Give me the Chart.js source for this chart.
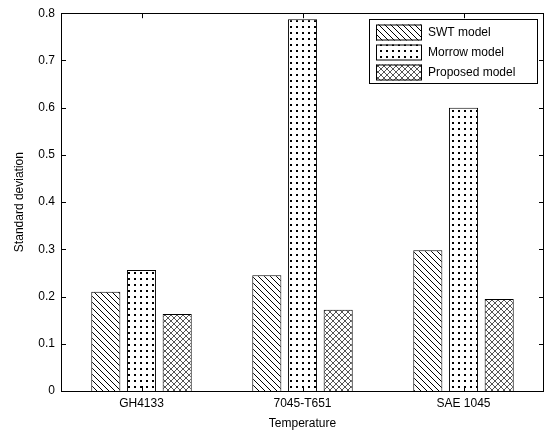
<!DOCTYPE html>
<html>
<head>
<meta charset="utf-8">
<script src="https://cdn.jsdelivr.net/npm/chart.js@4"></script>
<style>
  html, body { margin: 0; padding: 0; background: #fff; }
  #wrap { width: 545px; height: 435px; }
</style>
</head>
<body>
<div id="wrap"><canvas id="chart" width="545" height="435"></canvas></div>
<script>
const materials = ['GH4133', '7045-T651', 'SAE 1045'];
const seriesNames = ['SWT model', 'Morrow model', 'Proposed model'];
const swtValues = [0.210, 0.245, 0.298];
const morrowValues = [0.256, 0.787, 0.600];
const proposedValues = [0.163, 0.172, 0.195];
const yTicks = [0, 0.1, 0.2, 0.3, 0.4, 0.5, 0.6, 0.7, 0.8];

const FONT = '"Liberation Sans", Arial, sans-serif';

// small pattern tiles, black on white like the print version
function makePattern(kind) {
  const c = document.createElement('canvas');
  c.width = 6; c.height = 6;
  const g = c.getContext('2d');
  g.fillStyle = '#fff';
  g.fillRect(0, 0, 6, 6);
  g.strokeStyle = '#000';
  g.lineWidth = 1;
  if (kind === 'diag') {
    g.beginPath();
    g.moveTo(-1, -1); g.lineTo(7, 7);
    g.moveTo(-1, 5); g.lineTo(1, 7);
    g.moveTo(5, -1); g.lineTo(7, 1);
    g.stroke();
  } else if (kind === 'dots') {
    g.fillStyle = '#000';
    g.fillRect(2, 2, 2, 2);
  } else {
    g.strokeStyle = '#555';
    g.beginPath();
    g.moveTo(-1, -1); g.lineTo(7, 7);
    g.moveTo(7, -1); g.lineTo(-1, 7);
    g.stroke();
  }
  return g.createPattern(c, 'repeat');
}

const swtFill = makePattern('diag');
const morrowFill = makePattern('dots');
const propFill = makePattern('cross');

// box round the plot, inward tick marks, and the legend inside the plot
const framePlugin = {
  id: 'frame',
  afterDraw(chart) {
    const ctx = chart.ctx;
    const a = chart.chartArea;
    const y = chart.scales.y;
    const x = chart.scales.x;
    ctx.save();
    ctx.strokeStyle = '#000';
    ctx.lineWidth = 1;
    ctx.strokeRect(Math.round(a.left) + 0.5, Math.round(a.top) + 0.5,
      Math.round(a.right - a.left) - 1, Math.round(a.bottom - a.top));
    ctx.beginPath();
    yTicks.forEach(v => {
      const py = Math.round(y.getPixelForValue(v)) + 0.5;
      ctx.moveTo(a.left, py); ctx.lineTo(a.left + 5, py);
      ctx.moveTo(a.right, py); ctx.lineTo(a.right - 5, py);
    });
    materials.forEach((m, i) => {
      const px = Math.round(x.getPixelForValue(i)) + 0.5;
      ctx.moveTo(px, a.top); ctx.lineTo(px, a.top + 5);
      ctx.moveTo(px, a.bottom); ctx.lineTo(px, a.bottom - 5);
    });
    ctx.stroke();

    // legend
    const lx = 369.5, ly = 19.5, lw = 168, lh = 64;
    ctx.fillStyle = '#fff';
    ctx.fillRect(lx, ly, lw, lh);
    ctx.strokeRect(lx, ly, lw, lh);
    ctx.font = '12px ' + FONT;
    ctx.textBaseline = 'middle';
    chart.data.datasets.forEach((ds, i) => {
      const ry = ly + 5 + i * 20;
      ctx.fillStyle = ds.backgroundColor;
      ctx.fillRect(376, ry, 46, 16);
      ctx.strokeRect(376.5, ry + 0.5, 45, 15);
      ctx.fillStyle = '#000';
      ctx.fillText(ds.label, 428, ry + 8);
    });
    ctx.restore();
  }
};

new Chart('chart', {
  type: 'bar',
  data: {
    labels: materials,
    datasets: [
      { label: seriesNames[0], data: swtValues, backgroundColor: swtFill },
      { label: seriesNames[1], data: morrowValues, backgroundColor: morrowFill },
      { label: seriesNames[2], data: proposedValues, backgroundColor: propFill }
    ]
  },
  options: {
    responsive: false,
    animation: false,
    layout: { padding: { left: 0, top: 10, right: 1, bottom: 0 } },
    datasets: {
      bar: {
        borderColor: '#000',
        borderWidth: 1,
        categoryPercentage: 0.665,
        barPercentage: 0.815
      }
    },
    plugins: {
      legend: { display: false },
      tooltip: { enabled: false }
    },
    scales: {
      x: {
        grid: { display: false, drawTicks: false },
        border: { display: false },
        ticks: { color: '#000', font: { family: FONT, size: 12 }, padding: 5 },
        title: { display: true, text: 'Temperature', color: '#000', font: { family: FONT, size: 12 }, padding: { top: 0, bottom: 4 } },
        afterFit(s) { s.height = 44; }
      },
      y: {
        min: 0,
        max: 0.8,
        afterBuildTicks(s) { s.ticks = yTicks.map(v => ({ value: v })); },
        grid: { display: false, drawTicks: false },
        border: { display: false },
        ticks: {
          color: '#000',
          font: { family: FONT, size: 12 },
          padding: 6,
          callback: v => String(Math.round(v * 10) / 10)
        },
        title: { display: true, text: 'Standard deviation', color: '#000', font: { family: FONT, size: 12 }, padding: { top: 12, bottom: 6 } },
        afterFit(s) { s.width = 61; }
      }
    }
  },
  plugins: [framePlugin]
});
</script>
</body>
</html>
